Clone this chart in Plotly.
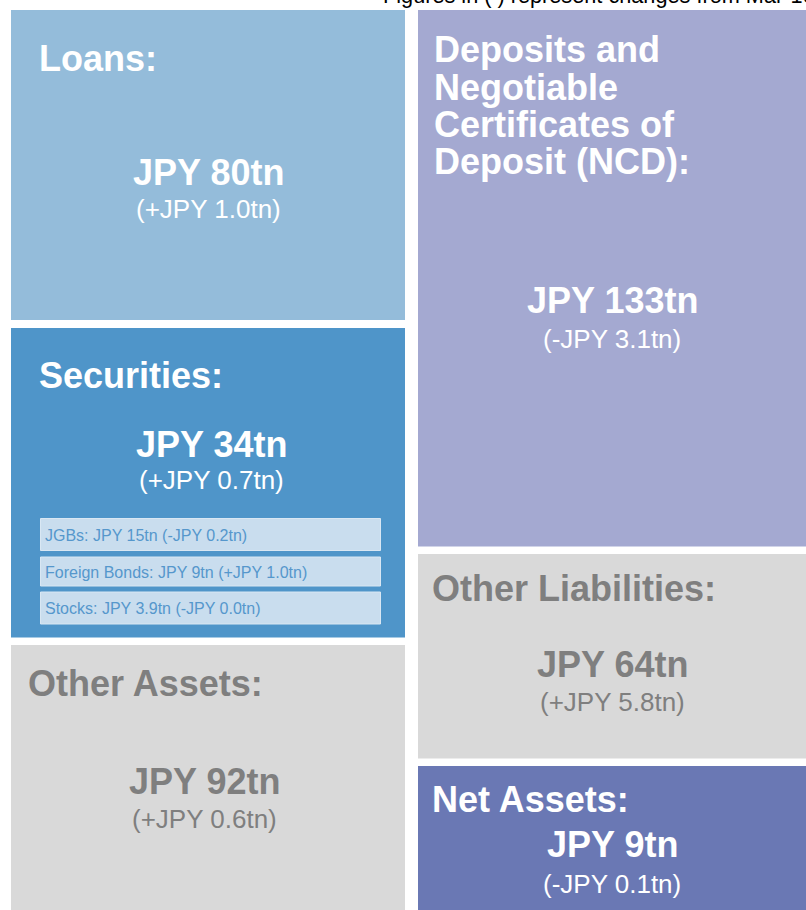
import math
import plotly.graph_objects as go

# ---------------- data ----------------
asset_names = ["Loans:", "Securities:", "Other Assets:"]
asset_amounts = [80, 34, 92]          # JPY tn
asset_changes = [1.0, 0.7, 0.6]       # JPY tn vs. Mar

liab_names = ["Deposits and Negotiable Certificates of Deposit (NCD):",
              "Other Liabilities:", "Net Assets:"]
liab_amounts = [133, 64, 9]
liab_changes = [-3.1, 5.8, -0.1]

sec_names = ["JGBs", "Foreign Bonds", "Stocks"]
sec_amounts = [15, 9, 3.9]
sec_changes = [-0.2, 1.0, -0.0]

note_text = "Figures in ( ) represent changes from Mar-16"

# ---------------- layout geometry (pixels in an 806x910 canvas) ----------------
W, H = 806, 910
FONT = "Arial, Liberation Sans, sans-serif"
GRAY_TXT = "#7f7f7f"

boxes = [
    dict(x0=11, x1=405, y0=10, y1=320, fill="#94bcda", tc="white",
         lines=[asset_names[0]], tx=39, tb=[71], cx=208, ab=185, cb=218,
         amt=asset_amounts[0], chg=asset_changes[0]),
    dict(x0=11, x1=405, y0=328, y1=637.5, fill="#4f95c9", tc="white",
         lines=[asset_names[1]], tx=39, tb=[388], cx=211, ab=457, cb=489,
         amt=asset_amounts[1], chg=asset_changes[1]),
    dict(x0=11, x1=405, y0=645, y1=910, fill="#d9d9d9", tc=GRAY_TXT,
         lines=[asset_names[2]], tx=28, tb=[696], cx=204, ab=794, cb=828,
         amt=asset_amounts[2], chg=asset_changes[2]),
    dict(x0=418, x1=806, y0=10, y1=546.5, fill="#a4a9d1", tc="white",
         lines=["Deposits and", "Negotiable", "Certificates of", "Deposit (NCD):"],
         tx=434, tb=[62, 100, 137, 174], cx=612, ab=313, cb=348,
         amt=liab_amounts[0], chg=liab_changes[0]),
    dict(x0=418, x1=806, y0=554, y1=758.5, fill="#d9d9d9", tc=GRAY_TXT,
         lines=[liab_names[1]], tx=432, tb=[601], cx=612, ab=677, cb=711,
         amt=liab_amounts[1], chg=liab_changes[1]),
    dict(x0=418, x1=806, y0=766, y1=910, fill="#6a78b4", tc="white",
         lines=[liab_names[2]], tx=432, tb=[812], cx=612, ab=857, cb=893,
         amt=liab_amounts[2], chg=liab_changes[2]),
]

sub_boxes = [(518.5, 550.5), (557, 586), (592, 624)]
sub_x0, sub_x1, sub_tx = 40.5, 380.5, 45

TITLE_SIZE = 36
AMT_SIZE = 36
CHG_SIZE = 26
SUB_SIZE = 16
NOTE_SIZE = 21.7


def fmt_amt(v):
    return f"JPY {v:g}tn"


def fmt_chg(c):
    sign = "-" if math.copysign(1, c) < 0 else "+"
    return f"({sign}JPY {abs(c):.1f}tn)"


def mid(baseline, size):
    # annotation middle from the text baseline
    return baseline - 0.3465 * size


fig = go.Figure()
fig.add_trace(go.Scatter(x=[0, W], y=[0, H], mode="markers",
                         marker=dict(opacity=0), hoverinfo="skip", showlegend=False))

shapes = []
annotations = []

for b in boxes:
    shapes.append(dict(type="rect", xref="x", yref="y", x0=b["x0"], x1=b["x1"],
                       y0=b["y0"], y1=b["y1"], fillcolor=b["fill"], line=dict(width=0),
                       layer="below"))
    for line, bl in zip(b["lines"], b["tb"]):
        annotations.append(dict(x=b["tx"], y=mid(bl, TITLE_SIZE), xref="x", yref="y",
                                text=f"<b>{line}</b>", showarrow=False, xanchor="left",
                                yanchor="middle", borderpad=0, borderwidth=0,
                                font=dict(family=FONT, size=TITLE_SIZE, color=b["tc"])))
    annotations.append(dict(x=b["cx"], y=mid(b["ab"], AMT_SIZE), xref="x", yref="y",
                            text=f"<b>{fmt_amt(b['amt'])}</b>", showarrow=False,
                            xanchor="center", yanchor="middle", borderpad=0, borderwidth=0,
                            font=dict(family=FONT, size=AMT_SIZE, color=b["tc"])))
    annotations.append(dict(x=b["cx"], y=mid(b["cb"], CHG_SIZE), xref="x", yref="y",
                            text=fmt_chg(b["chg"]), showarrow=False,
                            xanchor="center", yanchor="middle", borderpad=0, borderwidth=0,
                            font=dict(family=FONT, size=CHG_SIZE, color=b["tc"])))

for (y0, y1), n, a, c in zip(sub_boxes, sec_names, sec_amounts, sec_changes):
    shapes.append(dict(type="rect", xref="x", yref="y", x0=sub_x0, x1=sub_x1, y0=y0, y1=y1,
                       fillcolor="#c9ddee", line=dict(color="#d9e7f3", width=1)))
    annotations.append(dict(x=sub_tx, y=(y0 + y1) / 2 + 0.5, xref="x", yref="y",
                            text=f"{n}: {fmt_amt(a)} {fmt_chg(c)}", showarrow=False,
                            xanchor="left", yanchor="middle", borderpad=0, borderwidth=0,
                            font=dict(family=FONT, size=SUB_SIZE, color="#5597cc")))

# note sits partly above the top edge (as in the reference) -> paper coordinates
annotations.append(dict(x=383 / W, y=1 - mid(3.5, NOTE_SIZE) / H, xref="paper", yref="paper",
                        text=note_text, showarrow=False, xanchor="left", yanchor="middle",
                        borderpad=0, borderwidth=0,
                        font=dict(family=FONT, size=NOTE_SIZE, color="black")))

fig.update_layout(
    width=W, height=H,
    margin=dict(l=0, r=0, t=0, b=0),
    paper_bgcolor="white", plot_bgcolor="white",
    xaxis=dict(range=[0, W], visible=False, fixedrange=True),
    yaxis=dict(range=[H, 0], visible=False, fixedrange=True),
    shapes=shapes, annotations=annotations, showlegend=False,
)

fig.write_html("out.html", config={"displayModeBar": False},
               post_script="document.body.style.margin='0';document.body.style.overflow='hidden';")
